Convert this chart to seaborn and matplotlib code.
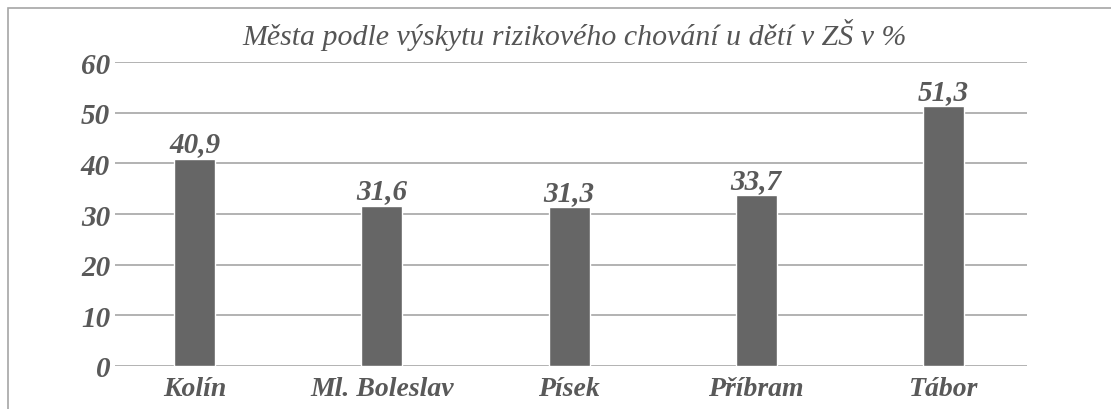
import matplotlib
matplotlib.use('Agg')
import matplotlib.pyplot as plt
import seaborn as sns
import pandas as pd
from matplotlib.patches import Rectangle

# data
mesta = ['Kolín', 'Ml. Boleslav', 'Písek', 'Příbram', 'Tábor']
hodnoty = [40.9, 31.6, 31.3, 33.7, 51.3]
yticks = [0, 10, 20, 30, 40, 50, 60]

df = pd.DataFrame({'Mesto': mesta, 'Hodnota': hodnoty})

sns.set_style('white')
plt.rcParams['font.family'] = ['Liberation Serif', 'DejaVu Serif']
rodina = 'Liberation Serif'
seda_text = '#595959'

W, H = 1111, 410
fig = plt.figure(figsize=(W / 100, H / 100), dpi=100)
# plot area in pixels: left 115, right 1027, top 63, bottom 367
ax = fig.add_axes([115 / W, 1 - 367 / H, (1027 - 115) / W, (367 - 63) / H])

sns.barplot(data=df, x='Mesto', y='Hodnota', color='#666666', width=0.219,
            saturation=1, ax=ax, zorder=3)

ax.set_ylim(0, 60)
ax.set_xlim(-0.425, 4.446)
ax.set_yticks(yticks)
for y in yticks:
    ax.axhline(y, color='#a6a6a6', lw=1.2, zorder=1)

for s in ax.spines.values():
    s.set_visible(False)
ax.tick_params(axis='both', length=0)
ax.tick_params(axis='y', pad=3.5)
ax.tick_params(axis='x', pad=7)
ax.set_xlabel('')
ax.set_ylabel('')

for lab in ax.get_yticklabels():
    lab.set_family(rodina)
    lab.set_fontsize(21)
    lab.set_fontstyle('italic')
    lab.set_fontweight('bold')
    lab.set_color(seda_text)
for lab in ax.get_xticklabels():
    lab.set_family(rodina)
    lab.set_fontsize(20)
    lab.set_fontstyle('italic')
    lab.set_fontweight('bold')
    lab.set_color(seda_text)

ax.bar_label(ax.containers[0], labels=[f'{v:.1f}'.replace('.', ',') for v in hodnoty],
             padding=1, fontsize=21, fontstyle='italic', fontweight='bold',
             family=rodina, color=seda_text)

fig.text(575 / W, 1 - 45 / H, 'Města podle výskytu rizikového chování u dětí v ZŠ v %',
         ha='center', va='baseline', fontsize=21.5, fontstyle='italic', family=rodina,
         color='#555555')

# ramecek kolem grafu
fig.patches.append(Rectangle((8 / W, -0.1), 1.2, 1 - 9 / H + 0.1, transform=fig.transFigure,
                             fill=False, edgecolor='#a6a6a6', lw=1.2))

fig.savefig('out.png', dpi=100)
